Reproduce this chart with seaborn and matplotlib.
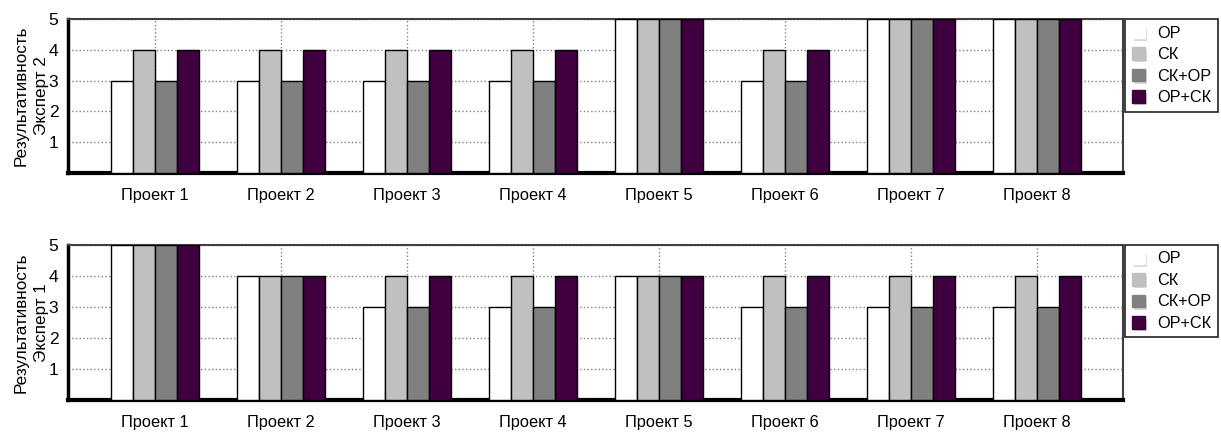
import numpy as np
import pandas as pd
import matplotlib
matplotlib.use("Agg")
import matplotlib.pyplot as plt
import matplotlib.patheffects as pe
from matplotlib.patches import Patch
from matplotlib.ticker import MultipleLocator
import seaborn as sns

# data
projects = ["Проект 1", "Проект 2", "Проект 3", "Проект 4",
            "Проект 5", "Проект 6", "Проект 7", "Проект 8"]
methods = ["ОР", "СК", "СК+ОР", "ОР+СК"]

expert2_op = [3, 3, 3, 3, 5, 3, 5, 5]
expert2_sk = [4, 4, 4, 4, 5, 4, 5, 5]
expert2_skop = [3, 3, 3, 3, 5, 3, 5, 5]
expert2_opsk = [4, 4, 4, 4, 5, 4, 5, 5]

expert1_op = [5, 4, 3, 3, 4, 3, 3, 3]
expert1_sk = [5, 4, 4, 4, 4, 4, 4, 4]
expert1_skop = [5, 4, 3, 3, 4, 3, 3, 3]
expert1_opsk = [5, 4, 4, 4, 4, 4, 4, 4]

colors = ["#ffffff", "#c0c0c0", "#808080", "#400040"]

sns.set_style("white")
plt.rcParams["font.family"] = ["Liberation Sans", "DejaVu Sans"]
plt.rcParams["text.color"] = "black"
plt.rcParams["axes.labelcolor"] = "black"


def make_df(series):
    rows = []
    for m, vals in zip(methods, series):
        for p, v in zip(projects, vals):
            rows.append({"project": p, "method": m, "value": v})
    return pd.DataFrame(rows)


def draw(ax, df, ylabel):
    sns.barplot(data=df, x="project", y="value", hue="method",
                hue_order=methods, order=projects, palette=colors,
                saturation=1, width=0.7, edgecolor="black", linewidth=1,
                legend=False, ax=ax, zorder=3)
    ax.set_xlim(-0.69, 7.68)
    ax.set_ylim(0, 5)
    ax.set_yticks([1, 2, 3, 4, 5])
    ax.yaxis.set_minor_locator(MultipleLocator(0.2))
    ax.xaxis.set_minor_locator(MultipleLocator(0.25))
    ax.set_axisbelow(True)
    ax.grid(True, which="major", linestyle=":", color="#808080", linewidth=1)
    ax.tick_params(axis="both", which="both", direction="out", color="#808080",
                   labelsize=11.8, labelcolor="black")
    ax.tick_params(axis="y", which="major", length=5, width=1, pad=2, labelsize=12.5)
    ax.tick_params(axis="y", which="minor", length=4, width=1)
    ax.tick_params(axis="x", which="major", length=5, width=1, pad=6)
    ax.tick_params(axis="x", which="minor", length=5, width=1)
    ax.set_xlabel("")
    ax.set_ylabel(ylabel, fontsize=12.3, linespacing=1.45, labelpad=0)
    ax.spines["left"].set_linewidth(2.5)
    ax.spines["left"].set_color("black")
    ax.spines["bottom"].set_linewidth(3)
    ax.spines["bottom"].set_color("black")
    ax.spines["top"].set_linewidth(1.5)
    ax.spines["top"].set_color("#404040")
    ax.spines["right"].set_linewidth(1.5)
    ax.spines["right"].set_color("#404040")

    shadow = [pe.withSimplePatchShadow(offset=(2, -2), shadow_rgbFace="#d8d8d8", alpha=1)]
    handles = [Patch(facecolor=c, edgecolor=c, label=m, path_effects=shadow)
               for c, m in zip(colors, methods)]
    leg = ax.legend(handles=handles, loc="upper left", bbox_to_anchor=(1.002, 1.0),
                    frameon=True, fancybox=False, edgecolor="#202020",
                    fontsize=11.7, handlelength=0.8, handleheight=0.8,
                    handletextpad=0.8, labelspacing=0.4, borderpad=0.4,
                    borderaxespad=0, framealpha=1)
    leg.get_frame().set_linewidth(1.2)


fig = plt.figure(figsize=(12.21, 4.33), dpi=100)
ax_top = fig.add_axes([0.0557, 0.6005, 0.864, 0.3556])
ax_bot = fig.add_axes([0.0557, 0.0762, 0.864, 0.358])

draw(ax_top, make_df([expert2_op, expert2_sk, expert2_skop, expert2_opsk]),
     "Результативность\nЭксперт 2")
draw(ax_bot, make_df([expert1_op, expert1_sk, expert1_skop, expert1_opsk]),
     "Результативность\nЭксперт 1")

fig.savefig("out.png", dpi=100)
